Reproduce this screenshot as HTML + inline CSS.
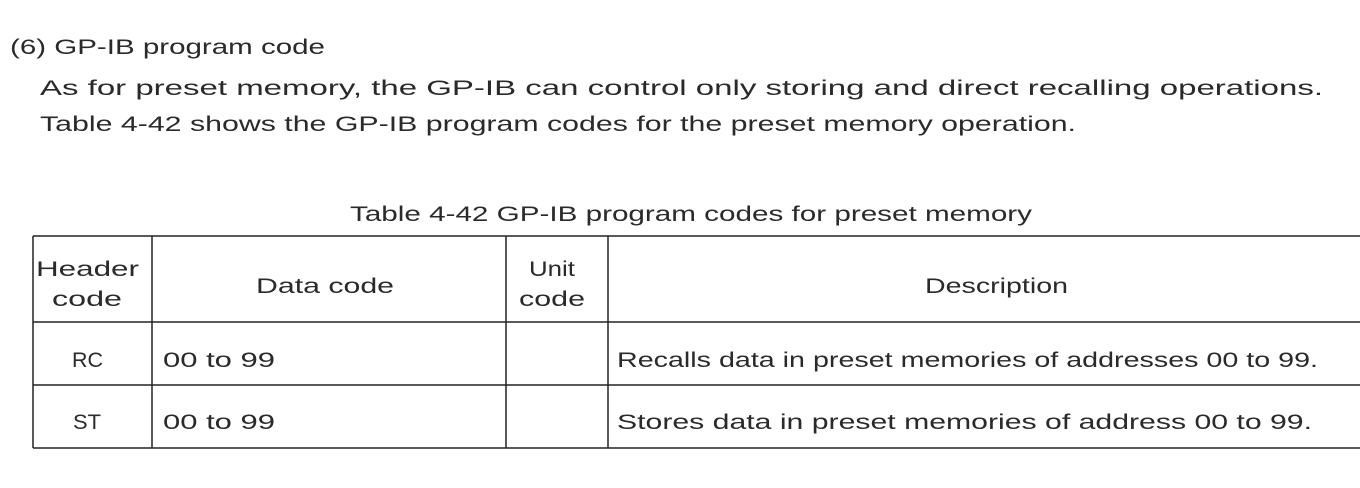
<!DOCTYPE html>
<html><head><style>
html,body{margin:0;padding:0;background:#fff;}
svg{display:block;}
text{font-family:"Liberation Sans",sans-serif;font-size:21px;fill:#2a2a2a;}
</style></head><body>
<svg width="1360" height="488" viewBox="0 0 1360 488">
<text x="10" y="54" textLength="315" lengthAdjust="spacingAndGlyphs">(6) GP-IB program code</text>
<text x="40" y="95" textLength="1283" lengthAdjust="spacingAndGlyphs">As for preset memory, the GP-IB can control only storing and direct recalling operations.</text>
<text x="40" y="131" textLength="1036" lengthAdjust="spacingAndGlyphs">Table 4-42 shows the GP-IB program codes for the preset memory operation.</text>
<text x="350" y="221" textLength="682" lengthAdjust="spacingAndGlyphs">Table 4-42  GP-IB program codes for preset memory</text>
<g stroke="#222" stroke-width="1.5" fill="none">
<line x1="33" y1="236" x2="1360" y2="236"/>
<line x1="33" y1="322" x2="1360" y2="322"/>
<line x1="33" y1="385" x2="1360" y2="385"/>
<line x1="33" y1="448" x2="1360" y2="448"/>
<line x1="33" y1="236" x2="33" y2="448"/>
<line x1="152" y1="236" x2="152" y2="448"/>
<line x1="506" y1="236" x2="506" y2="448"/>
<line x1="608" y1="236" x2="608" y2="448"/>
</g>
<text x="36" y="276" textLength="103" lengthAdjust="spacingAndGlyphs">Header</text>
<text x="52" y="306" textLength="70" lengthAdjust="spacingAndGlyphs">code</text>
<text x="256" y="293" textLength="138" lengthAdjust="spacingAndGlyphs">Data code</text>
<text x="529" y="276" textLength="46" lengthAdjust="spacingAndGlyphs">Unit</text>
<text x="519" y="306" textLength="66" lengthAdjust="spacingAndGlyphs">code</text>
<text x="925" y="293" textLength="143" lengthAdjust="spacingAndGlyphs">Description</text>
<text x="72" y="367" textLength="31" lengthAdjust="spacingAndGlyphs">RC</text>
<text x="163" y="367" textLength="112" lengthAdjust="spacingAndGlyphs">00 to 99</text>
<text x="617" y="367" textLength="701" lengthAdjust="spacingAndGlyphs">Recalls data in preset memories of addresses 00 to 99.</text>
<text x="73" y="429" textLength="28" lengthAdjust="spacingAndGlyphs">ST</text>
<text x="163" y="429" textLength="112" lengthAdjust="spacingAndGlyphs">00 to 99</text>
<text x="617" y="429" textLength="695" lengthAdjust="spacingAndGlyphs">Stores data in preset memories of address 00 to 99.</text>
</svg>
</body></html>
